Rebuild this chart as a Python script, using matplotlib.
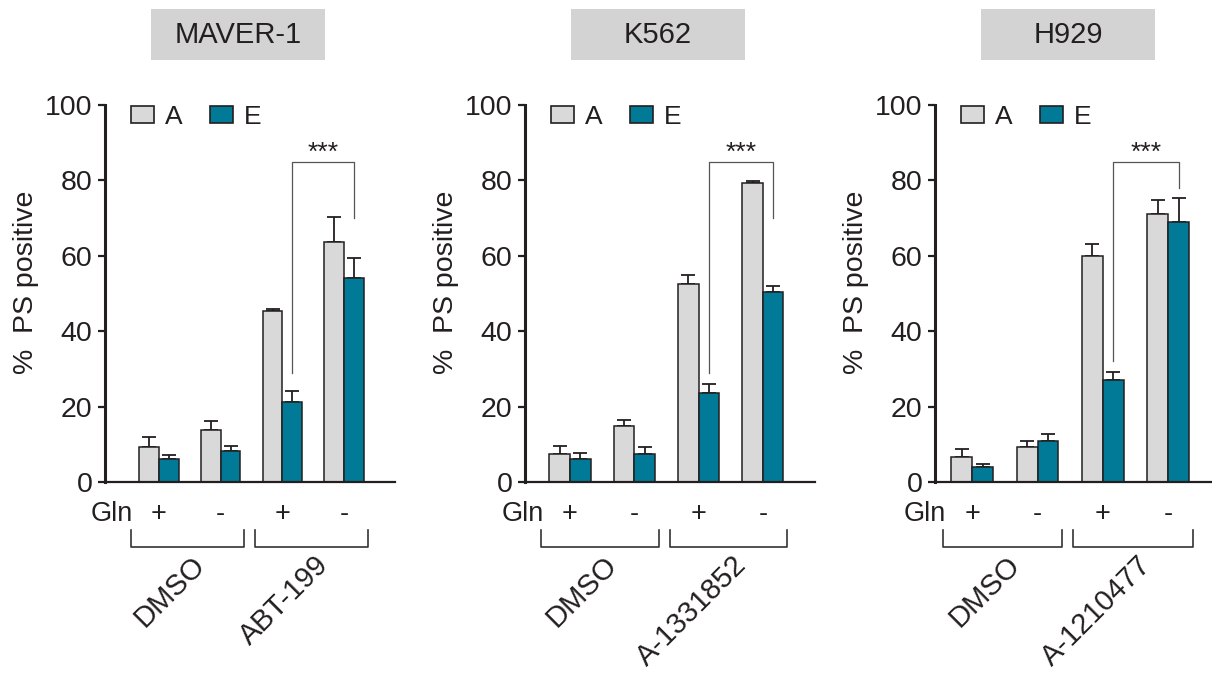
import matplotlib
matplotlib.use("Agg")
import matplotlib.pyplot as plt
from matplotlib.patches import Patch, Rectangle

plt.rcParams["font.family"] = ["Liberation Sans", "DejaVu Sans"]

# data
cell_lines = ["MAVER-1", "K562", "H929"]
drugs = ["ABT-199", "A-1331852", "A-1210477"]
gln = ["+", "-", "+", "-"]
series = ["A", "E"]

maver_a = [9.3, 13.9, 45.3, 63.7]
maver_a_err = [2.6, 2.3, 0.5, 6.5]
maver_e = [6.2, 8.1, 21.2, 54.2]
maver_e_err = [0.9, 1.5, 2.9, 5.2]

k562_a = [7.5, 14.8, 52.5, 79.4]
k562_a_err = [2.0, 1.6, 2.5, 0.5]
k562_e = [6.2, 7.5, 23.7, 50.3]
k562_e_err = [1.6, 1.8, 2.3, 1.7]

h929_a = [6.6, 9.3, 60.0, 71.2]
h929_a_err = [2.1, 1.6, 3.1, 3.6]
h929_e = [4.0, 10.8, 27.0, 69.0]
h929_e_err = [0.9, 2.0, 2.2, 6.4]

# significance bracket (top, left leg end, right leg end)
sig_top = 85
sig_left = [29, 29, 32]
sig_right = [70, 70, 78]

A_COL = "#d9d9d9"
E_COL = "#007a96"
INK = "#231f20"

panels = [
    (maver_a, maver_a_err, maver_e, maver_e_err),
    (k562_a, k562_a_err, k562_e, k562_e_err),
    (h929_a, h929_a_err, h929_e, h929_e_err),
]
lefts = [105 / 1212, 525 / 1212, 935 / 1212]
xlims = [(-0.875, 3.825), (-0.70, 3.81), (-0.57, 3.87)]

fig = plt.figure(figsize=(12.12, 6.77), dpi=100)
w = 0.32
x = list(range(len(gln)))

for i, (a, a_err, e, e_err) in enumerate(panels):
    ax = fig.add_axes([lefts[i], 1 - 482 / 677, 290 / 1212, 377 / 677])
    xa = [v - w / 2 for v in x]
    xe = [v + w / 2 for v in x]
    ax.bar(xa, a, w, color=A_COL, edgecolor=INK, linewidth=1.1, zorder=2)
    ax.bar(xe, e, w, color=E_COL, edgecolor=INK, linewidth=1.1, zorder=2)
    ax.errorbar(xa, a, yerr=[[0] * 4, a_err], fmt="none", ecolor=INK,
                elinewidth=1.3, capsize=5, capthick=1.3, zorder=1)
    ax.errorbar(xe, e, yerr=[[0] * 4, e_err], fmt="none", ecolor=INK,
                elinewidth=1.3, capsize=5, capthick=1.3, zorder=1)

    ax.set_xlim(*xlims[i])
    ax.set_ylim(0, 100)
    ax.set_yticks([0, 20, 40, 60, 80, 100])
    ax.set_xticks([])
    for s in ["top", "right"]:
        ax.spines[s].set_visible(False)
    ax.spines["left"].set_linewidth(2.2)
    ax.spines["bottom"].set_linewidth(1.6)
    ax.spines["left"].set_color(INK)
    ax.spines["bottom"].set_color(INK)
    ax.tick_params(axis="y", direction="out", length=5, width=1.6,
                   labelsize=20.5, pad=4, colors=INK)
    ax.set_ylabel("%  PS positive", fontsize=20.5, labelpad=4, color=INK, y=0.53)

    # legend
    handles = [Patch(facecolor=A_COL, edgecolor=INK, linewidth=1.2),
               Patch(facecolor=E_COL, edgecolor=INK, linewidth=1.2)]
    ax.legend(handles, series, ncol=2, loc="upper left",
              bbox_to_anchor=(0.09, 1.0), frameon=False, fontsize=19,
              handlelength=0.87, handleheight=0.6, handletextpad=0.4,
              columnspacing=1.05, borderaxespad=0, borderpad=0,
              labelcolor=INK)

    # significance bracket
    x0 = xe[2]
    x1 = xe[3]
    ax.plot([x0, x0, x1, x1], [sig_left[i], sig_top, sig_top, sig_right[i]],
            color="#555555", linewidth=0.9, zorder=3)
    ax.text((x0 + x1) / 2, sig_top - 1.0, "***", ha="center", va="bottom",
            fontsize=19, color=INK)

    # cell line title box
    ax.add_patch(Rectangle((0.16, 1.119), 0.597, 0.136, transform=ax.transAxes,
                           clip_on=False, facecolor="#d3d3d3", edgecolor="none"))
    ax.text(0.4585, 1.187, cell_lines[i], transform=ax.transAxes,
            ha="center", va="center", fontsize=21, color=INK)

    # Gln row
    tr = ax.get_xaxis_transform()
    ax.annotate("Gln", xy=(0, -0.085), xycoords=tr, xytext=(-19, 0),
                textcoords="offset points", ha="right", va="center",
                fontsize=19.5, color=INK, annotation_clip=False)
    for xi, g in zip(x, gln):
        ax.text(xi, -0.085, g, transform=tr, ha="center", va="center",
                fontsize=19.5, color=INK)

    # treatment brackets and labels
    for j, lab in enumerate(["DMSO", drugs[i]]):
        b0 = x[2 * j] - 0.45
        b1 = x[2 * j + 1] + 0.38
        ax.plot([b0, b0, b1, b1], [-0.127, -0.172, -0.172, -0.127],
                transform=tr, clip_on=False, color="#333333", linewidth=1.2)
        ax.text((b0 + b1) / 2 + 0.05, -0.183, lab, transform=tr, rotation=45,
                rotation_mode="anchor", ha="right", va="top",
                fontsize=21, color=INK)

fig.savefig("out.png", dpi=100)
